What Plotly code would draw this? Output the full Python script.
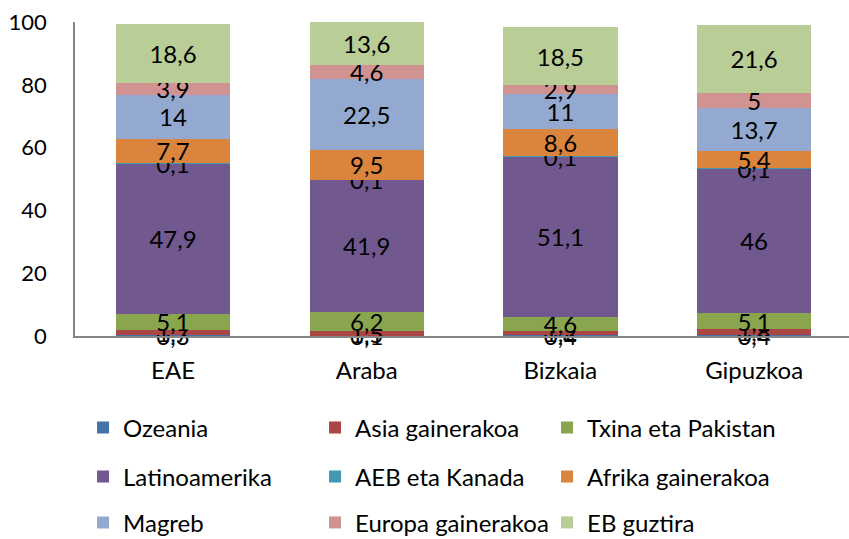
import plotly.graph_objects as go

categories = ["EAE", "Araba", "Bizkaia", "Gipuzkoa"]
series_names = ["Ozeania", "Asia gainerakoa", "Txina eta Pakistan", "Latinoamerika",
                "AEB eta Kanada", "Afrika gainerakoa", "Magreb", "Europa gainerakoa", "EB guztira"]
ozeania = [0.3, 0.1, 0.4, 0.4]
asia = [1.7, 1.5, 1.2, 1.8]
txina = [5.1, 6.2, 4.6, 5.1]
latinoamerika = [47.9, 41.9, 51.1, 46]
aeb = [0.1, 0.1, 0.1, 0.1]
afrika = [7.7, 9.5, 8.6, 5.4]
magreb = [14, 22.5, 11, 13.7]
europa = [3.9, 4.6, 2.9, 5]
eb = [18.6, 13.6, 18.5, 21.6]
y_ticks = [0, 20, 40, 60, 80, 100]

values = [ozeania, asia, txina, latinoamerika, aeb, afrika, magreb, europa, eb]
colors = ["#4572A7", "#AA4643", "#89A54E", "#71588F", "#4198AF",
          "#DB843D", "#93A9CF", "#D19392", "#B9CD96"]
legend_ids = ["legend", "legend", "legend", "legend2", "legend2", "legend2",
              "legend3", "legend3", "legend3"]

FONT = "Lato"

def fmt(v):
    s = ("%.1f" % v).rstrip("0").rstrip(".")
    return s.replace(".", ",")

fig = go.Figure()
for name, vals, col, lg in zip(series_names, values, colors, legend_ids):
    fig.add_trace(go.Bar(
        x=categories, y=vals, name=name,
        marker=dict(color=col, line=dict(width=0)),
        text=[fmt(v) for v in vals],
        textposition="inside", insidetextanchor="middle",
        textangle=0, constraintext="none",
        textfont=dict(family=FONT, size=24, color="black"),
        width=0.59, legend=lg, cliponaxis=False,
    ))

leg_common = dict(orientation="h", xanchor="left", yanchor="middle",
                  xref="container", yref="container",
                  entrywidth=187, entrywidthmode="pixels",
                  font=dict(family=FONT, size=24, color="black"),
                  bgcolor="rgba(0,0,0,0)", traceorder="normal")

fig.update_layout(
    barmode="stack",
    width=849, height=539,
    margin=dict(l=75, r=0, t=22, b=203, autoexpand=False),
    paper_bgcolor="white", plot_bgcolor="white",
    font=dict(family=FONT, size=24, color="black"),
    showlegend=True,
    legend=dict(x=0.0978, y=0.206, **leg_common),
    legend2=dict(x=0.0978, y=0.115, **leg_common),
    legend3=dict(x=0.0978, y=0.030, **leg_common),
    xaxis=dict(range=[-0.506, 3.49], showline=True, linecolor="#868686", linewidth=1.5,
               showgrid=False, ticks="", ticklabelstandoff=12,
               tickfont=dict(family=FONT, size=24, color="black")),
    yaxis=dict(range=[0, 100], tickvals=y_ticks, showline=True, linecolor="#868686",
               linewidth=1.5, showgrid=False, zeroline=False, ticks="",
               ticklabelstandoff=22,
               tickfont=dict(family=FONT, size=22, color="black")),
)

fig.write_html("out.html", config={"displayModeBar": False},
               post_script="document.body.style.margin='0';document.body.style.padding='0';")
